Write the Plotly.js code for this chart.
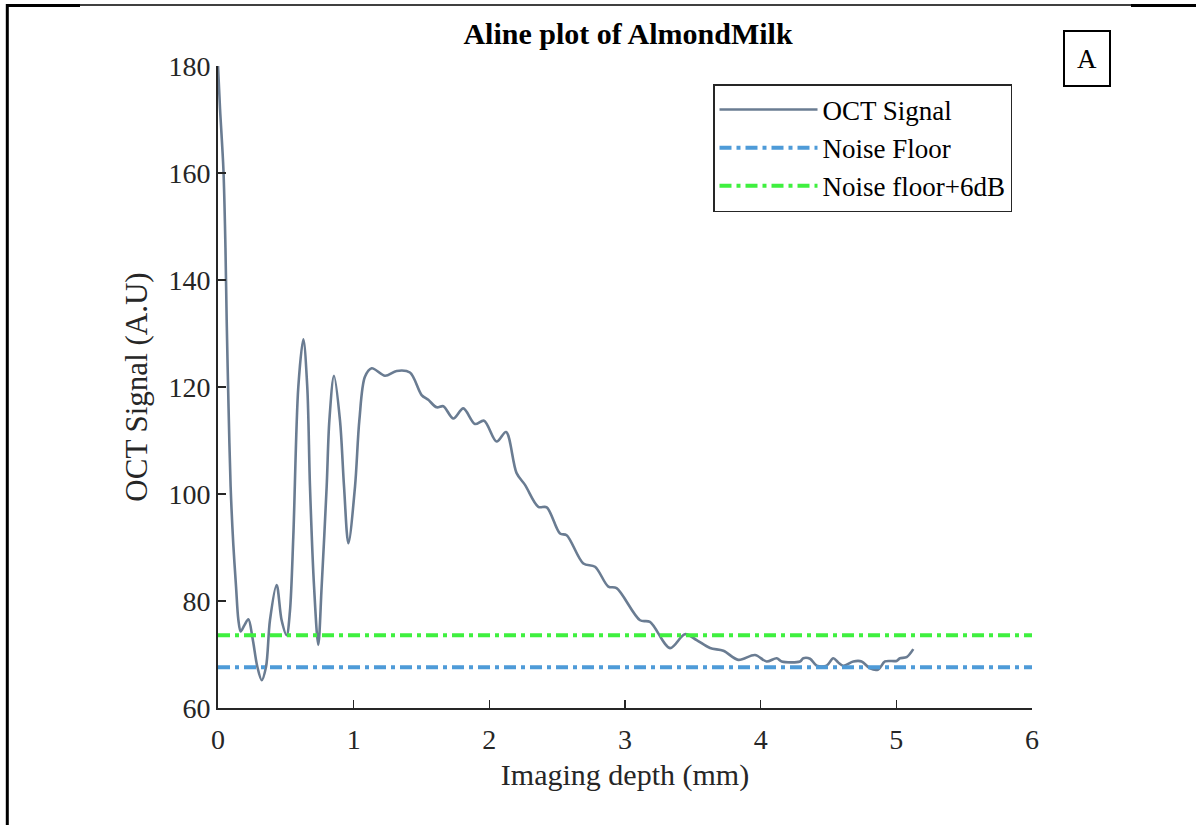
<!DOCTYPE html>
<html>
<head>
<meta charset="utf-8">
<script src="https://cdn.plot.ly/plotly-3.0.1.min.js"></script>
<style>
html,body{margin:0;padding:0;background:#fff;}
#chart{width:1196px;height:825px;}
</style>
</head>
<body>
<div id="chart"></div>
<script>
// Imaging depth (mm) of the OCT A-line
const depthMm = [0.000,0.015,0.040,0.055,0.064,0.078,0.093,0.113,0.133,0.150,0.167,0.195,0.224,0.255,0.290,0.322,0.354,0.383,0.432,0.469,0.506,0.530,0.555,0.592,0.629,0.658,0.678,0.708,0.739,0.764,0.801,0.821,0.855,0.899,0.929,0.961,1.010,1.042,1.083,1.133,1.231,1.317,1.415,1.501,1.550,1.612,1.661,1.735,1.808,1.894,1.961,2.054,2.123,2.201,2.263,2.361,2.423,2.521,2.570,2.693,2.779,2.877,2.938,3.111,3.184,3.332,3.442,3.528,3.627,3.725,3.835,3.958,4.044,4.118,4.155,4.290,4.314,4.364,4.413,4.486,4.535,4.572,4.609,4.683,4.744,4.806,4.867,4.916,5.002,5.027,5.076,5.125];
// OCT signal (A.U)
const octSignal = [180.0,172.0,160.6,146.0,132.5,116.0,101.4,90.5,82.7,76.5,74.3,75.5,76.6,73.0,67.7,65.2,67.7,76.4,83.0,76.4,73.6,78.0,92.0,120.0,128.9,120.0,101.4,82.7,71.8,82.7,101.4,113.8,122.1,113.8,101.4,90.8,101.4,113.8,121.9,123.5,122.1,123.0,122.7,118.5,117.6,116.2,116.4,114.1,116.0,113.1,113.7,109.8,111.6,103.9,101.7,97.6,97.5,92.6,92.3,87.0,86.4,82.7,82.4,76.4,76.1,71.2,73.8,72.7,71.2,70.7,69.0,69.9,68.7,69.3,68.7,68.7,69.3,69.2,67.9,67.9,69.3,68.5,67.9,68.7,68.7,67.4,67.2,68.7,68.8,69.3,69.5,71.0];
// Horizontal reference levels
const noiseX = [0, 6];
const noiseFloor = [67.6, 67.6];
const noiseFloor6dB = [73.6, 73.6];
// Tick labels
const xTicks = [0,1,2,3,4,5,6];
const yTicks = [60,80,100,120,140,160,180];

const FONT = "Liberation Serif, Times New Roman, serif";
const dashDot = "12px,5px,4px,5px";

const traces = [
  {x: depthMm, y: octSignal, type: "scatter", mode: "lines", name: "OCT Signal",
   line: {color: "#6a7c92", width: 2.6, shape: "spline", smoothing: 0.9}},
  {x: noiseX, y: noiseFloor, type: "scatter", mode: "lines", name: "Noise Floor",
   line: {color: "#4e9bd8", width: 4, dash: dashDot}},
  {x: noiseX, y: noiseFloor6dB, type: "scatter", mode: "lines", name: "Noise floor+6dB",
   line: {color: "#3ff03f", width: 4, dash: dashDot}}
];

// pixel -> paper helpers (plot area 218..1032 x 66..708)
function px(x){ return (x - 218) / 814; }
function py(y){ return (708 - y) / 642; }

const layout = {
  width: 1196, height: 825,
  margin: {l: 218, r: 164, t: 66, b: 117, pad: 0},
  paper_bgcolor: "#ffffff", plot_bgcolor: "#ffffff",
  font: {family: FONT, color: "#262626", size: 27},
  title: {text: "<b>Aline plot of AlmondMilk</b>", font: {family: FONT, size: 30, color: "#000"},
          x: px(628), xref: "paper", xanchor: "center", y: py(47), yref: "paper", yanchor: "middle"},
  xaxis: {range: [0, 6], tickvals: xTicks, ticktext: xTicks.map(String), showgrid: false, zeroline: false,
          showline: true, linecolor: "#262626", linewidth: 2, ticks: "inside", ticklen: 8, tickwidth: 1.5,
          tickcolor: "#262626", tickfont: {size: 28, family: FONT, color: "#262626"}, ticklabelstandoff: 5,
          title: {text: "Imaging depth (mm)", font: {size: 30, family: FONT, color: "#262626"}, standoff: 10}},
  yaxis: {range: [60, 180], tickvals: yTicks, ticktext: yTicks.map(String), showgrid: false, zeroline: false,
          showline: true, linecolor: "#262626", linewidth: 2, ticks: "inside", ticklen: 8, tickwidth: 1.5,
          tickcolor: "#262626", tickfont: {size: 28, family: FONT, color: "#262626"},
          title: {text: "OCT Signal (A.U)", font: {size: 31, family: FONT, color: "#262626"}, standoff: 12}},
  showlegend: true,
  legend: {x: px(1012), xanchor: "right", y: py(84), yanchor: "top", itemwidth: 98,
           bgcolor: "#ffffff", bordercolor: "#262626", borderwidth: 1.5,
           font: {size: 27, family: FONT, color: "#000"}, tracegroupgap: 0},
  annotations: [
    {text: "A", xref: "paper", yref: "paper", x: px(1087), y: py(58), xanchor: "center", yanchor: "middle",
     showarrow: false, font: {size: 27, family: FONT, color: "#000"},
     bordercolor: "#000", borderwidth: 2, borderpad: 0, width: 44, height: 53, bgcolor: "#fff"}
  ],
  shapes: [
    {type: "line", xref: "paper", yref: "paper", x0: px(7), x1: px(1196), y0: py(5), y1: py(5), line: {color: "#000", width: 1.5}},
    {type: "line", xref: "paper", yref: "paper", x0: px(7), x1: px(80), y0: py(5.5), y1: py(5.5), line: {color: "#000", width: 3}},
    {type: "line", xref: "paper", yref: "paper", x0: px(1131), x1: px(1196), y0: py(5.5), y1: py(5.5), line: {color: "#000", width: 3}},
    {type: "line", xref: "paper", yref: "paper", x0: px(7.3), x1: px(7.3), y0: py(4), y1: py(825), line: {color: "#000", width: 3}}
  ]
};

Plotly.newPlot("chart", traces, layout, {displayModeBar: false, staticPlot: true});
</script>
</body>
</html>
